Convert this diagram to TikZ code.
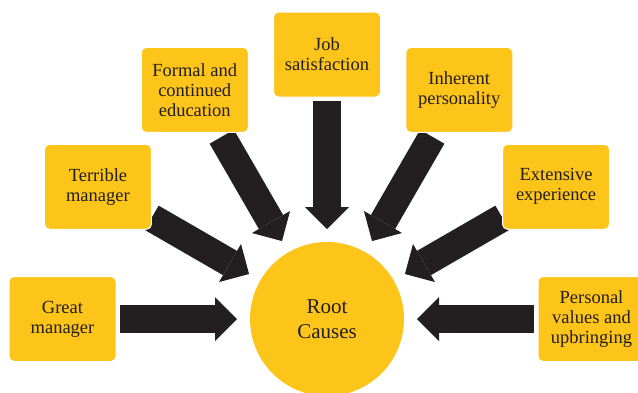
\documentclass[tikz,border=0pt]{standalone}
\usepackage{fontspec}
\setmainfont{Liberation Serif}
\newfontfamily\labelfont{Liberation Serif}
\usetikzlibrary{arrows.meta,backgrounds}
\definecolor{causeyellow}{HTML}{FDC41A}
\definecolor{arrowdark}{HTML}{231F20}
\begin{document}
\begin{tikzpicture}[x=1pt,y=1pt,
  causebox/.style={fill=causeyellow, draw=white, line width=1pt, rounded corners=5pt,
    minimum width=107pt, minimum height=85pt, align=center, text=arrowdark,
    font=\labelfont\fontsize{18.5}{20}\selectfont, inner sep=0pt},
  rootnode/.style={circle, fill=causeyellow, minimum size=154pt, inner sep=0pt,
    align=center, text=arrowdark, font=\labelfont\fontsize{21}{25}\selectfont},
  bigarrow/.style={draw=arrowdark, line width=28pt,
    -{Triangle[length=22pt,width=44pt,line width=0pt]}, shorten >=90pt}
]
\useasboundingbox (0,0) rectangle (638,-392);
\clip (0,0) rectangle (638,-392);

% central circle
\node[rootnode] (root) at (327,-319) {Root\\Causes};

% causes placed on an arc around the circle, every 30 degrees
\node[causebox] (great)    at ([shift={(180:264.5)}]root.center) {Great\\manager};
\node[causebox] (terrible) at ([shift={(150:264.5)}]root.center) {Terrible\\manager};
\node[causebox] (formal)   at ([shift={(120:264.5)}]root.center) {Formal and\\continued\\education};
\node[causebox] (job)      at ([shift={(90:264.5)}]root.center)  {Job\\satisfaction};
\node[causebox] (inherent) at ([shift={(60:264.5)}]root.center)  {Inherent\\personality};
\node[causebox] (extensive)at ([shift={(30:264.5)}]root.center)  {Extensive\\experience};
\node[causebox] (personal) at ([shift={(0:264.5)}]root.center)   {Personal\\values and\\upbringing};

% block arrows pointing at the centre, behind the boxes
\begin{scope}[on background layer]
  \draw[bigarrow, shorten <=57.5pt] (great.center)     -- (root.center);
  \draw[bigarrow, shorten <=62pt]   (terrible.center)  -- (root.center);
  \draw[bigarrow, shorten <=54pt]   (formal.center)    -- (root.center);
  \draw[bigarrow, shorten <=46pt]   (job.center)       -- (root.center);
  \draw[bigarrow, shorten <=54pt]   (inherent.center)  -- (root.center);
  \draw[bigarrow, shorten <=62pt]   (extensive.center) -- (root.center);
  \draw[bigarrow, shorten <=57.5pt] (personal.center)  -- (root.center);
\end{scope}
\end{tikzpicture}
\end{document}
